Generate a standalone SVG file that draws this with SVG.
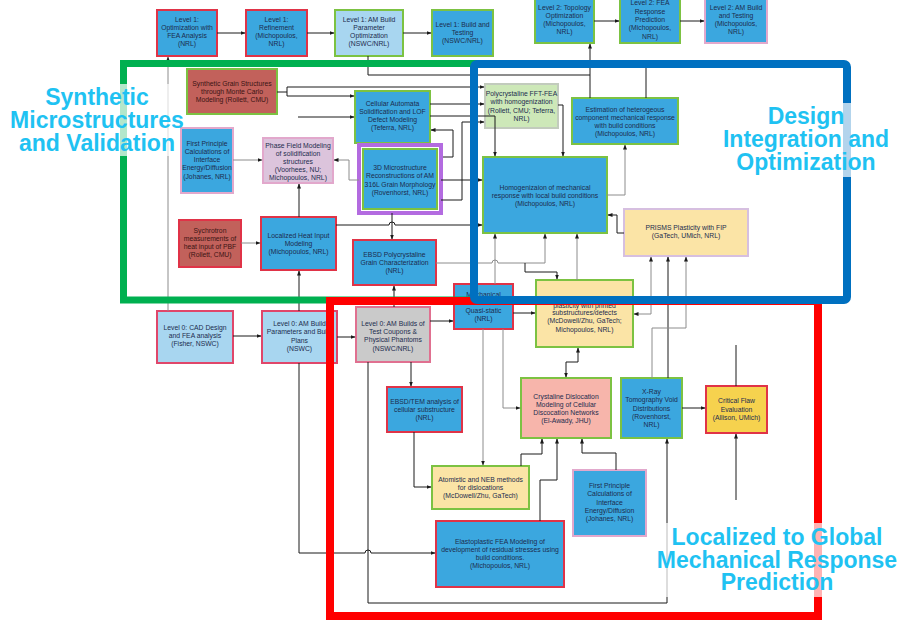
<svg xmlns="http://www.w3.org/2000/svg" width="900" height="620" viewBox="0 0 900 620">
<defs>
<marker id="ah" viewBox="0 0 10 10" refX="9" refY="5" markerWidth="5" markerHeight="5" orient="auto-start-reverse"><path d="M0,1 L10,5 L0,9z" fill="#1a1a1a"/></marker>
<style>
.n rect{stroke-width:2}
.b{fill:#3ba7df}
.lb{fill:#a8d6f0}
.br{fill:#c2615b}
.y{fill:#fbe4a6}
.sr{stroke:#e03347}
.sg{stroke:#7cc242}
.sp{stroke:#e2a8cc}
.t{font-family:"Liberation Sans",Arial,sans-serif;font-size:6.8px;text-anchor:middle;fill:#1c2c4e}
.tr{fill:#3a1414}
.c path{fill:none;stroke:#1a1a1a;stroke-width:1}
.c path.gr{stroke:#8c8c8c}
.c path.e{marker-end:url(#ah)}
.c path.s{marker-start:url(#ah)}
.big{font-family:"Liberation Sans",Arial,sans-serif;font-weight:bold;font-size:23px;fill:#1fc2f2;text-anchor:middle}
.bg{fill:#fff;opacity:0.7}
</style>
</defs>
<rect width="900" height="620" fill="#fff"/>

<!-- Level 1 chain -->
<g id="l1-opt" class="n"><rect class="b sr" x="157" y="10" width="60" height="46"/><text class="t"><tspan x="187" y="21.5">Level 1:</tspan><tspan x="187" y="29.8">Optimization with</tspan><tspan x="187" y="38.1">FEA Analysis</tspan><tspan x="187" y="46.4">(NRL)</tspan></text></g>
<g id="l1-ref" class="n"><rect class="b sr" x="246" y="10" width="61" height="46"/><text class="t"><tspan x="276.5" y="21.5">Level 1:</tspan><tspan x="276.5" y="29.8">Refinement</tspan><tspan x="276.5" y="38.1">(Michopoulos,</tspan><tspan x="276.5" y="46.4">NRL)</tspan></text></g>
<g id="l1-param" class="n"><rect class="lb sg" x="335" y="10" width="68" height="46"/><text class="t"><tspan x="369" y="21.5">Level 1: AM Build</tspan><tspan x="369" y="29.8">Parameter</tspan><tspan x="369" y="38.1">Optimization</tspan><tspan x="369" y="46.4">(NSWC/NRL)</tspan></text></g>
<g id="l1-build" class="n"><rect class="b sg" x="432" y="10" width="61" height="46"/><text class="t"><tspan x="462.5" y="26.5">Level 1: Build and</tspan><tspan x="462.5" y="34.5">Testing</tspan><tspan x="462.5" y="42.5">(NSWC/NRL)</tspan></text></g>

<!-- Level 2 chain -->
<g id="l2-topo" class="n"><rect class="b sg" x="535" y="-2" width="59" height="45"/><text class="t"><tspan x="564.5" y="9.5">Level 2: Topology</tspan><tspan x="564.5" y="17.8">Optimization</tspan><tspan x="564.5" y="26.1">(Michopoulos,</tspan><tspan x="564.5" y="34.4">NRL)</tspan></text></g>
<g id="l2-fea" class="n"><rect class="b sg" x="620" y="-2" width="60" height="45"/><text class="t"><tspan x="650" y="5.3">Level 2: FEA</tspan><tspan x="650" y="13.6">Response</tspan><tspan x="650" y="21.9">Prediction</tspan><tspan x="650" y="30.2">(Michopoulos,</tspan><tspan x="650" y="38.5">NRL)</tspan></text></g>
<g id="l2-build" class="n"><rect class="b sp" x="705" y="-2" width="62" height="45"/><text class="t"><tspan x="736" y="9.5">Level 2: AM Build</tspan><tspan x="736" y="17.8">and Testing</tspan><tspan x="736" y="26.1">(Michopoulos,</tspan><tspan x="736" y="34.4">NRL)</tspan></text></g>

<!-- Synthetic microstructures -->
<g id="grain-mc" class="n"><rect class="br sg" x="187" y="69" width="90" height="45"/><text class="t tr"><tspan x="232" y="85.8">Synthetic Grain Structures</tspan><tspan x="232" y="94.1">through Monte Carlo</tspan><tspan x="232" y="102.4">Modeling (Rollett, CMU)</tspan></text></g>
<g id="cellular" class="n"><rect class="b sg" x="355" y="91" width="75" height="52"/><text class="t"><tspan x="392.5" y="105.5">Cellular Automata</tspan><tspan x="392.5" y="113.8">Solidification and LOF</tspan><tspan x="392.5" y="122.1">Defect Modeling</tspan><tspan x="392.5" y="130.4">(Teferra, NRL)</tspan></text></g>
<g id="first-principle-1" class="n"><rect class="b sp" x="181" y="128" width="52" height="65"/><text class="t"><tspan x="207" y="145.5">First Principle</tspan><tspan x="207" y="153.8">Calculations of</tspan><tspan x="207" y="162.1">Interface</tspan><tspan x="207" y="170.4">Energy/Diffusion</tspan><tspan x="207" y="178.7">(Johanes, NRL)</tspan></text></g>
<g id="phase-field" class="n"><rect fill="#dcc4dc" class="sp" x="263" y="138" width="70" height="45"/><text class="t"><tspan x="298" y="147.5">Phase Field Modeling</tspan><tspan x="298" y="155.5">of solidification</tspan><tspan x="298" y="163.5">structures</tspan><tspan x="298" y="171.5">(Voorhees, NU;</tspan><tspan x="298" y="179.5">Michopoulos, NRL)</tspan></text></g>
<g id="recon-3d" class="n"><rect x="359" y="145" width="82" height="68" fill="none" stroke="#b36be0" style="stroke-width:4"/><rect class="b sg" x="363" y="149" width="74" height="60"/><text class="t"><tspan x="400" y="170">3D Microstructure</tspan><tspan x="400" y="178.3">Reconstructions of AM</tspan><tspan x="400" y="186.6">316L Grain Morphology</tspan><tspan x="400" y="194.9">(Rovenhorst, NRL)</tspan></text></g>
<g id="synchrotron" class="n"><rect class="br sr" x="179" y="220" width="62" height="47"/><text class="t tr"><tspan x="210" y="232.5">Sychrotron</tspan><tspan x="210" y="240.5">measurements of</tspan><tspan x="210" y="248.5">heat input of PBF</tspan><tspan x="210" y="256.5">(Rollett, CMU)</tspan></text></g>
<g id="heat-input" class="n"><rect class="b sr" x="261" y="217" width="75" height="53"/><text class="t"><tspan x="298.5" y="237.5">Localized Heat Input</tspan><tspan x="298.5" y="245.5">Modeling</tspan><tspan x="298.5" y="253.5">(Michopoulos, NRL)</tspan></text></g>
<g id="ebsd-poly" class="n"><rect class="b sr" x="353" y="240" width="83" height="45"/><text class="t"><tspan x="394.5" y="256.5">EBSD Polycrystaline</tspan><tspan x="394.5" y="264.5">Grain Characterization</tspan><tspan x="394.5" y="272.5">(NRL)</tspan></text></g>

<!-- Design integration -->
<g id="fft-fea" class="n"><rect fill="#cde8b8" stroke="#c2cbbd" x="485" y="84" width="73" height="44"/><text class="t"><tspan x="521.5" y="96">Polycrystaline FFT-FEA</tspan><tspan x="521.5" y="104.3">with homogenization</tspan><tspan x="521.5" y="112.6">(Rollett, CMU; Teferra,</tspan><tspan x="521.5" y="120.6">NRL)</tspan></text></g>
<g id="estimation" class="n"><rect class="b sg" x="572" y="98" width="106" height="46"/><text class="t"><tspan x="625" y="111.5">Estimation of heterogeous</tspan><tspan x="625" y="119.5">component mechanical response</tspan><tspan x="625" y="127.5">with build conditions</tspan><tspan x="625" y="135.5">(Michopoulos, NRL)</tspan></text></g>
<g id="homogenization" class="n"><rect class="b sg" x="483" y="157" width="124" height="76"/><text class="t"><tspan x="545" y="189.5">Homogenizaion of mechanical</tspan><tspan x="545" y="197.5">response with local build conditions</tspan><tspan x="545" y="205.5">(Michopoulos, NRL)</tspan></text></g>
<g id="prisms" class="n"><rect class="y" stroke="#d6bfe0" x="624" y="209" width="124" height="47"/><text class="t"><tspan x="686" y="229.5">PRISMS Plasticity with FIP</tspan><tspan x="686" y="237.5">(GaTech, UMich, NRL)</tspan></text></g>

<!-- Level 0 -->
<g id="l0-cad" class="n"><rect class="lb" stroke="#e0466a" x="157" y="311" width="76" height="52"/><text class="t"><tspan x="195" y="330">Level 0: CAD Design</tspan><tspan x="195" y="337.8">and FEA analysis</tspan><tspan x="195" y="345.8">(Fisher, NSWC)</tspan></text></g>
<g id="l0-params" class="n"><rect class="lb" stroke="#e0466a" x="262" y="311" width="75" height="52"/><text class="t"><tspan x="299.5" y="326">Level 0: AM Build</tspan><tspan x="299.5" y="334.3">Parameters and Build</tspan><tspan x="299.5" y="342.6">Plans</tspan><tspan x="299.5" y="350.9">(NSWC)</tspan></text></g>
<g id="l0-builds" class="n"><rect fill="#cacaca" stroke="#e07090" x="356" y="307" width="74" height="55"/><text class="t"><tspan x="393" y="326">Level 0: AM Builds of</tspan><tspan x="393" y="334.3">Test Coupons &amp;</tspan><tspan x="393" y="342.3">Physical Phantoms</tspan><tspan x="393" y="350.5">(NSWC/NRL)</tspan></text></g>

<!-- Local to global -->
<g id="mech-test" class="n"><rect class="b sr" x="454" y="284" width="59" height="45"/><text class="t"><tspan x="483.5" y="296.5">Mechanical</tspan><tspan x="483.5" y="312.5">Quasi-static</tspan><tspan x="483.5" y="320.5">(NRL)</tspan></text></g>
<g id="mesoscale" class="n"><rect class="y sg" x="536" y="280" width="97" height="67"/><text class="t"><tspan x="584.5" y="301.5">Mesoscale Crystal Plasticity and</tspan><tspan x="584.5" y="307.5">plasticity with printed</tspan><tspan x="584.5" y="315.3">substructures/defects</tspan><tspan x="584.5" y="323.3">(McDowell/Zhu, GaTech;</tspan><tspan x="584.5" y="331.8">Michopoulos, NRL)</tspan></text></g>
<g id="ebsd-tem" class="n"><rect class="b sr" x="387" y="387" width="75" height="45"/><text class="t"><tspan x="424.5" y="404">EBSD/TEM analysis of</tspan><tspan x="424.5" y="412">cellular substructure</tspan><tspan x="424.5" y="420">(NRL)</tspan></text></g>
<g id="dislocation" class="n"><rect fill="#f7b5ab" class="sg" x="521" y="378" width="90" height="60"/><text class="t"><tspan x="566" y="398.5">Crystaline Dislocation</tspan><tspan x="566" y="406.8">Modeling of Cellular</tspan><tspan x="566" y="415.1">Discocation Networks</tspan><tspan x="566" y="423.4">(El-Awady, JHU)</tspan></text></g>
<g id="xray" class="n"><rect class="b sg" x="621" y="378" width="61" height="60"/><text class="t"><tspan x="651.5" y="394">X-Ray</tspan><tspan x="651.5" y="402.3">Tomography Void</tspan><tspan x="651.5" y="410.6">Distributions</tspan><tspan x="651.5" y="418.9">(Rovenhorst,</tspan><tspan x="651.5" y="427.2">NRL)</tspan></text></g>
<g id="critical-flaw" class="n"><rect fill="#f6d24e" class="sr" x="706" y="386" width="61" height="47"/><text class="t"><tspan x="736.5" y="403">Critical Flaw</tspan><tspan x="736.5" y="411.6">Evaluation</tspan><tspan x="736.5" y="420">(Allison, UMich)</tspan></text></g>
<g id="atomistic" class="n"><rect class="y sg" x="432" y="466" width="97" height="43"/><text class="t"><tspan x="480.5" y="481.8">Atomistic and NEB methods</tspan><tspan x="480.5" y="489.8">for dislocations</tspan><tspan x="480.5" y="497.6">(McDowell/Zhu, GaTech)</tspan></text></g>
<g id="first-principle-2" class="n"><rect class="b sp" x="573" y="470" width="73" height="66"/><text class="t"><tspan x="609.5" y="488">First Principle</tspan><tspan x="609.5" y="496.3">Calculations of</tspan><tspan x="609.5" y="504.6">Interface</tspan><tspan x="609.5" y="512.9">Energy/Diffusion</tspan><tspan x="609.5" y="521.2">(Johanes, NRL)</tspan></text></g>
<g id="elastoplastic" class="n"><rect class="b sr" x="436" y="521" width="128" height="66"/><text class="t"><tspan x="500" y="543.5">Elastoplastic FEA Modeling of</tspan><tspan x="500" y="551.8">development of residual stresses using</tspan><tspan x="500" y="560">build conditions.</tspan><tspan x="500" y="568.3">(Michopoulos, NRL)</tspan></text></g>

<!-- connectors -->
<g id="connectors" class="c">
<path class="e" d="M217,33H245"/>
<path class="e" d="M307,33H334"/>
<path class="e" d="M403,33H431"/>
<path class="e" d="M594,21H619"/>
<path class="e" d="M680,21H704"/>
<path class="e gr" d="M168,311V57"/>
<path d="M368,56V75H590"/>
<path class="e" d="M590,98V44"/>
<path d="M646,98V66"/>
<path class="e" d="M277,92H287V96H354"/>
<path class="e" d="M287,92V87H484"/>
<path class="e" d="M298,117H354"/>
<path class="e" d="M430,104H484"/>
<path class="e" d="M430,116H495V156"/>
<path class="e" d="M558,105H563V156"/>
<path class="e" d="M443,157H453V130H431"/>
<path class="e" d="M441,200H462V122H484"/>
<path class="e" d="M441,180H482"/>
<path class="e gr" d="M359,180H349V160H334"/>
<path class="e gr" d="M233,160H262"/>
<path class="e" d="M299,217V184"/>
<path class="e gr" d="M241,243H260"/>
<path class="e" d="M299,311V271"/>
<path class="e" d="M336,225H389a3,3 0 0 1 6,0H482"/>
<path class="e" d="M392,213V239"/>
<path class="e" d="M394,307V286"/>
<path class="e gr" d="M436,263H492a3,3 0 0 1 6,0H545V234"/>
<path class="e" d="M525,263V272H557V279"/>
<path class="e gr" d="M495,284V234"/>
<path class="e gr" d="M577,280V234"/>
<path class="e gr" d="M607,195H625V145"/>
<path class="e" d="M624,233H617V215H608"/>
<path class="e s gr" d="M634,314H651V257"/>
<path class="e" d="M668,378V257"/>
<path class="e gr" d="M652,378V328H686V257"/>
<path d="M736,386V345"/>
<path class="e" d="M682,408H705"/>
<path class="e" d="M368,362V603H667V439"/>
<path class="e" d="M736,500V434"/>
<path class="e" d="M411,362V386"/>
<path class="e" d="M414,432V487H431"/>
<path class="e gr" d="M483,329V465"/>
<path class="e gr" d="M503,329V408H520"/>
<path class="e s" d="M578,348V362H566V377"/>
<path class="e" d="M521,466V454H542V439"/>
<path class="e" d="M616,470V453H582V439"/>
<path class="e" d="M540,521V480H557V439"/>
<path class="e" d="M299,363V553H365a3,3 0 0 1 6,0H435"/>
<path class="e" d="M233,336H261"/>
<path class="e" d="M337,337H355"/>
<path class="e" d="M430,321H453"/>
<path class="e" d="M513,313H535"/>
</g>

<!-- region frames -->
<rect x="123.5" y="63.5" width="350.5" height="236.5" fill="none" stroke="#00b050" stroke-width="7"/>
<rect x="330" y="301" width="488" height="315" fill="none" stroke="#ff0000" stroke-width="8"/>
<rect x="474" y="64" width="373" height="236" rx="3" fill="none" stroke="#0070c0" stroke-width="8"/>

<!-- region titles -->
<rect class="bg" x="4" y="84" width="176" height="72"/>
<text class="big"><tspan x="97" y="105">Synthetic</tspan><tspan x="97" y="128">Microstructures</tspan><tspan x="97" y="151">and Validation</tspan></text>
<rect class="bg" x="718" y="103" width="180" height="74"/>
<text class="big"><tspan x="806" y="124">Design</tspan><tspan x="806" y="147">Integration and</tspan><tspan x="806" y="170">Optimization</tspan></text>
<rect class="bg" x="652" y="523" width="248" height="74"/>
<text class="big"><tspan x="777" y="545">Localized to Global</tspan><tspan x="777" y="568">Mechanical Response</tspan><tspan x="777" y="590">Prediction</tspan></text>
</svg>
